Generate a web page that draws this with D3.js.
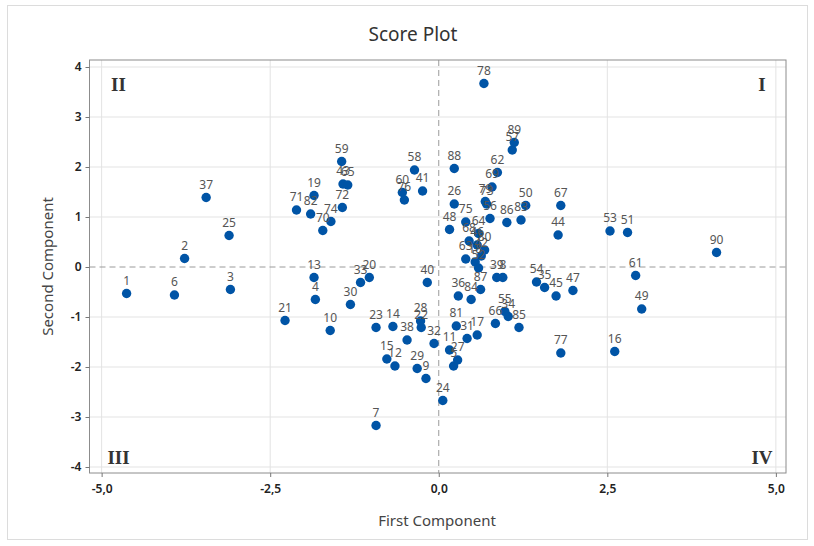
<!DOCTYPE html>
<html><head><meta charset="utf-8">
<script src="https://cdn.jsdelivr.net/npm/d3@7"></script>
<style>body{margin:0;background:#fff}svg{display:block}</style>
</head><body><svg id="c" width="814" height="546"></svg>
<script>
const labels = ["1","2","3","4","5","6","7","8","9","10","11","12","13","14","15","16","17","18","19","20","21","22","23","24","25","26","27","28","29","30","31","32","33","34","35","36","37","38","39","40","41","42","43","44","45","46","47","48","49","50","51","52","53","54","55","56","57","58","59","60","61","62","63","64","65","66","67","68","69","70","71","72","73","74","75","76","77","78","79","80","81","82","83","84","85","86","87","88","89","90"];
const firstComp = [-4.63,-3.77,-3.09,-1.83,0.22,-3.92,-0.93,0.95,-0.19,-1.61,0.16,-0.65,-1.85,-0.68,-0.77,2.61,0.57,0.54,-1.85,-1.03,-2.28,-0.26,-0.93,0.06,-3.11,0.23,0.28,-0.27,-0.32,-1.31,0.42,-0.07,-1.16,1.03,1.57,0.29,-3.45,-0.47,0.86,-0.17,-0.24,0.63,-1.42,1.77,1.74,0.57,1.99,0.16,3.01,1.29,2.80,0.59,2.54,1.45,0.98,0.76,1.09,-0.36,-1.44,-0.54,2.92,0.87,0.40,0.59,-1.35,0.84,1.81,0.45,0.79,-1.72,-2.11,-1.43,0.71,-1.60,0.40,-0.51,1.81,0.67,0.69,0.68,0.26,-1.90,1.22,0.48,1.19,1.01,0.62,0.23,1.12,4.12];
const secondComp = [-0.53,0.17,-0.45,-0.65,-1.98,-0.56,-3.17,-0.21,-2.23,-1.27,-1.66,-1.98,-0.21,-1.19,-1.84,-1.69,-1.36,0.10,1.43,-0.21,-1.07,-1.21,-1.21,-2.67,0.63,1.26,-1.86,-1.08,-2.03,-0.75,-1.43,-1.53,-0.31,-0.99,-0.41,-0.58,1.39,-1.46,-0.21,-0.31,1.52,0.22,1.66,0.64,-0.58,0.44,-0.47,0.75,-0.84,1.23,0.69,-0.02,0.72,-0.30,-0.89,0.97,2.34,1.94,2.11,1.49,-0.17,1.89,0.16,0.67,1.64,-1.13,1.23,0.52,1.60,0.73,1.14,1.19,1.26,0.91,0.90,1.34,-1.72,3.67,1.31,0.34,-1.18,1.06,0.94,-0.65,-1.21,0.89,-0.45,1.97,2.49,0.29];
const xTicks = [-5,-2.5,0,2.5,5];
const yTicks = [-4,-3,-2,-1,0,1,2,3,4];
const quadrants = [{t:"II",x:-5,y:4},{t:"I",x:5,y:4},{t:"III",x:-5,y:-4},{t:"IV",x:5,y:-4}];

const svg = d3.select("#c");
const L=89.5, R=786, T=60, B=473;
const x = d3.scaleLinear().domain([-5.18,5.15]).range([L,R]);
const y = d3.scaleLinear().domain([-4.12,4.14]).range([B,T]);
const fmt = d => d3.format(".1f")(d).replace(".",",").replace("\u2212","-");

svg.append("rect").attr("x",7.5).attr("y",5.5).attr("width",800).attr("height",534)
  .attr("fill","#fff").attr("stroke","#dcdcdc");

// grid
svg.append("g").selectAll("line").data(xTicks.filter(d=>d!==0)).join("line")
  .attr("x1",d=>x(d)).attr("x2",d=>x(d)).attr("y1",T).attr("y2",B)
  .attr("stroke","#e3e3e3").attr("stroke-width",1);
svg.append("g").selectAll("line").data(yTicks.filter(d=>d!==0)).join("line")
  .attr("y1",d=>y(d)).attr("y2",d=>y(d)).attr("x1",L).attr("x2",R)
  .attr("stroke","#e3e3e3").attr("stroke-width",1);
// zero ref lines
svg.append("line").attr("x1",x(0)).attr("x2",x(0)).attr("y1",T).attr("y2",B)
  .attr("stroke","#9a9a9a").attr("stroke-dasharray","6,4");
svg.append("line").attr("y1",y(0)).attr("y2",y(0)).attr("x1",L).attr("x2",R)
  .attr("stroke","#9a9a9a").attr("stroke-dasharray","6,4");

// frame
svg.append("rect").attr("x",L).attr("y",T).attr("width",R-L).attr("height",B-T)
  .attr("fill","none").attr("stroke","#8c8c8c");

// axes
const xa = svg.append("g").attr("transform",`translate(0,${B})`)
  .call(d3.axisBottom(x).tickValues(xTicks).tickFormat(fmt).tickSize(4).tickSizeOuter(0));
const ya = svg.append("g").attr("transform",`translate(${L},0)`)
  .call(d3.axisLeft(y).tickValues(yTicks).tickFormat(d => String(d).replace("\u2212","-")).tickSize(4).tickSizeOuter(0));
[xa,ya].forEach(g=>{
  g.select(".domain").remove();
  g.selectAll("line").attr("stroke","#777");
  g.selectAll("text").attr("font-family","'Noto Sans', 'Open Sans', sans-serif")
   .attr("font-size",12).attr("font-weight","600").attr("fill","#222");
});
xa.selectAll("text").attr("dy","1.1em");
ya.selectAll("text").attr("dx","-1");

// titles
svg.append("text").attr("x",413).attr("y",41).attr("text-anchor","middle")
  .attr("font-family","'Noto Sans', 'Open Sans', sans-serif").attr("font-size",19).attr("fill","#333").text("Score Plot");
svg.append("text").attr("x",437).attr("y",526).attr("text-anchor","middle")
  .attr("font-family","'Noto Sans', 'Open Sans', sans-serif").attr("font-size",15).attr("fill","#444").text("First Component");
svg.append("text").attr("transform",`translate(53,${(T+B)/2}) rotate(-90)`).attr("text-anchor","middle")
  .attr("font-family","'Noto Sans', 'Open Sans', sans-serif").attr("font-size",15).attr("fill","#444").text("Second Component");

// quadrant labels
svg.append("g").selectAll("text").data(quadrants).join("text")
  .attr("x",d=>d.x<0? L+29 : R-24)
  .attr("y",d=>d.y>0? T+31 : B-9)
  .attr("text-anchor","middle")
  .attr("font-family","'Liberation Serif', 'DejaVu Serif', serif").attr("font-weight","bold")
  .attr("font-size",19).attr("fill","#333").text(d=>d.t);

// points
const data = labels.map((l,i)=>({l, x:firstComp[i], y:secondComp[i]}));
svg.append("g").selectAll("circle").data(data).join("circle")
  .attr("cx",d=>x(d.x)).attr("cy",d=>y(d.y)).attr("r",4.7).attr("fill","#0054a6");
svg.append("g").selectAll("text").data(data).join("text")
  .attr("x",d=>x(d.x)).attr("y",d=>y(d.y)-9).attr("text-anchor","middle")
  .attr("font-family","'Noto Sans', 'Open Sans', sans-serif").attr("font-size",12).attr("fill","#555").text(d=>d.l);
</script></body></html>
